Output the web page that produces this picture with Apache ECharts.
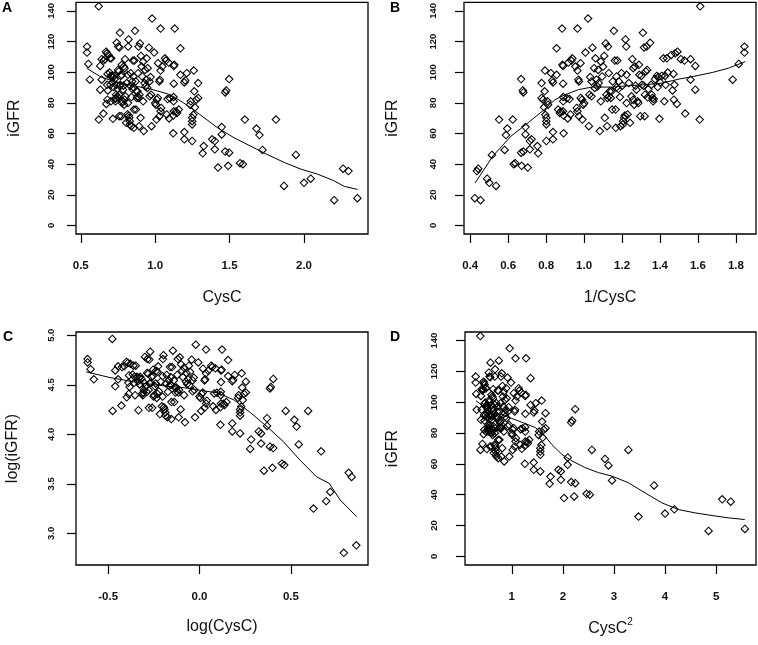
<!DOCTYPE html>
<html><head><meta charset="utf-8">
<script src="https://cdn.jsdelivr.net/npm/echarts@6/dist/echarts.min.js"></script>
<style>html,body{margin:0;padding:0;background:#fff}#c{width:758px;height:645px}</style>
</head><body><div id="c"></div>
<script>
// Values: 1/CysC (panel B x) and iGFR for each subject.
const invCysC = [0.424,0.454,0.442,0.435,0.489,0.500,0.536,0.514,0.552,0.595,0.588,0.581,0.624,0.637,0.629,0.668,0.677,0.680,0.671,0.668,0.680,0.691,0.691,0.703,0.714,0.723,0.714,0.754,0.758,0.776,0.776,0.784,0.789,0.794,0.796,0.801,0.807,0.801,0.801,0.801,0.810,0.792,0.825,0.832,0.836,0.836,0.836,0.855,0.855,0.863,0.872,0.877,0.884,0.886,0.889,0.889,0.890,0.890,0.892,0.889,0.892,0.909,0.914,0.917,0.923,0.928,0.933,0.938,0.954,0.961,0.965,0.965,0.965,0.970,0.973,0.973,0.981,0.982,0.989,0.991,0.995,1.000,1.007,1.021,1.025,1.028,1.032,1.039,1.039,1.044,1.053,1.056,1.060,1.065,1.070,1.074,1.077,1.083,1.088,1.088,1.095,1.100,1.106,1.109,1.114,1.118,1.121,1.123,1.126,1.130,1.132,1.135,1.141,1.144,1.148,1.151,1.157,1.162,1.166,1.167,1.171,1.171,1.175,1.180,1.183,1.189,1.192,1.197,1.201,1.204,1.206,1.211,1.215,1.218,1.222,1.224,1.224,1.229,1.236,1.242,1.250,1.254,1.259,1.259,1.264,1.268,1.271,1.276,1.282,1.286,1.289,1.291,1.296,1.301,1.305,1.310,1.314,1.316,1.319,1.321,1.325,1.330,1.332,1.335,1.339,1.348,1.353,1.356,1.360,1.364,1.367,1.374,1.383,1.388,1.392,1.397,1.401,1.409,1.418,1.423,1.427,1.430,1.436,1.441,1.459,1.466,1.471,1.473,1.476,1.480,1.489,1.492,1.510,1.529,1.533,1.561,1.561,1.586,1.586,1.609,1.612,1.783,1.815,1.845,1.845];
const iGFR = [17.8,16.5,37.0,35.5,30.5,27.8,25.8,46.0,69.1,63.2,59.0,49.3,69.1,40.6,40.0,95.5,88.1,86.8,38.9,47.5,48.2,64.2,59.4,37.8,55.1,56.2,49.7,51.8,47.1,92.9,83.2,82.1,77.1,101.1,72.2,70.2,81.0,68.0,65.9,55.1,78.8,87.5,99.4,94.6,93.3,60.9,56.2,115.6,98.3,75.6,73.4,74.3,128.5,104.8,104.1,92.5,83.8,81.0,60.1,74.5,71.7,83.0,69.8,106.3,82.5,72.4,107.6,109.1,103.7,76.7,74.5,128.5,101.1,95.1,94.0,71.3,105.9,83.2,82.1,69.1,78.8,79.9,112.8,135.0,64.8,85.3,96.8,84.3,94.0,116.0,102.6,89.7,109.1,95.1,90.7,101.5,92.9,61.6,106.9,81.0,97.2,103.7,110.6,70.2,118.8,85.3,64.8,83.2,116.7,99.4,84.3,87.5,83.2,87.5,75.6,94.0,127.0,107.6,75.6,63.7,90.1,97.2,107.6,89.0,94.0,83.8,64.8,99.4,91.2,65.9,68.0,70.2,71.7,121.4,116.7,98.3,79.9,72.4,92.9,67.0,84.3,108.5,102.6,82.1,78.8,103.7,91.2,88.6,81.0,79.9,104.8,98.3,71.3,97.6,91.8,125.7,91.2,116.2,71.3,85.3,100.5,116.7,101.5,83.6,89.0,119.2,91.8,85.3,83.2,81.0,82.5,95.5,97.6,90.3,96.8,69.6,93.3,97.6,109.1,81.0,97.6,91.8,109.1,99.8,111.3,88.1,98.9,82.1,91.8,112.3,79.3,113.4,108.5,107.6,73.0,108.5,95.1,104.1,88.6,69.1,143.0,95.1,105.4,112.8,116.7];

// Smoothed (loess) curves
const loessA_x = [0.54,0.63,0.74,0.85,0.97,1.08,1.12,1.21,1.30,1.42,1.53,1.64,1.75,1.87,1.98,2.09,2.20,2.27,2.36];
const loessA_y = [102.6,97.2,93.3,91.2,89.0,86.0,84.3,78.8,72.4,63.7,57.2,51.8,46.4,41.0,36.7,33.5,29.2,25.5,23.5];
const loessB_x = [0.425,0.52,0.615,0.705,0.79,0.846,0.90,0.97,1.04,1.15,1.235,1.32,1.41,1.50,1.59,1.675,1.76,1.85];
const loessB_y = [27.6,45.4,58.3,67.0,75.6,82.0,85.3,88.6,90.3,90.3,91.2,91.8,92.9,95.5,97.6,99.8,102.6,106.9];
const loessC_x = [-0.62,-0.49,-0.36,-0.27,-0.18,-0.09,0.0,0.10,0.19,0.28,0.37,0.46,0.55,0.64,0.71,0.77,0.86];
const loessC_y = [4.63,4.573,4.53,4.506,4.486,4.472,4.445,4.418,4.345,4.217,4.076,3.924,3.739,3.571,3.504,3.336,3.168];
const loessD_x = [0.30,0.50,0.70,1.0,1.2,1.46,1.65,1.78,1.98,2.18,2.44,2.70,2.96,3.28,3.61,3.94,4.26,4.59,4.92,5.24,5.56];
const loessD_y = [101,96,93,89.5,87,83.6,78.1,72.7,66.2,61.9,57.5,54.3,52.1,47.8,41.2,34.7,30.4,28.2,26.5,25.0,23.9];

// Tick values
const ticksA_x = [0.5,1.0,1.5,2.0];
const ticksB_x = [0.4,0.6,0.8,1.0,1.2,1.4,1.6,1.8];
const ticksC_x = [-0.5,0.0,0.5];
const ticksD_x = [1,2,3,4,5];
const ticksGFR = [0,20,40,60,80,100,120,140];
const ticksLogGFR = [3.0,3.5,4.0,4.5,5.0];

// Panel x variables are the plotted transforms of CysC named on each axis
const cysC = invCysC.map(v => 1 / v);
const dataA = cysC.map((c, i) => [c, iGFR[i]]);
const dataB = invCysC.map((v, i) => [v, iGFR[i]]);
const dataC = cysC.map((c, i) => [Math.log(c), Math.log(iGFR[i])]);
const dataD = cysC.map((c, i) => [c * c, iGFR[i]]);
const zip = (xs, ys) => xs.map((x, i) => [x, ys[i]]);

const FONT = 'Liberation Sans, Arial, Helvetica, sans-serif';
const INK = '#111';

function xAx(i, min, max, ticks, fmt, name, labelMargin, nameGap) {
  return {
    type: 'value', gridIndex: i, min: min, max: max,
    axisLine: { show: false, onZero: false },
    splitLine: { show: false },
    axisTick: { show: true, length: 9, customValues: ticks, lineStyle: { color: '#000', width: 1.2 } },
    axisLabel: { customValues: ticks, margin: labelMargin, fontSize: 11.5, fontWeight: 'bold', color: INK, fontFamily: FONT, formatter: fmt },
    name: name, nameLocation: 'middle', nameGap: nameGap,
    nameTextStyle: {
      fontSize: 16, color: INK, fontFamily: FONT,
      rich: {
        a: { fontSize: 16, color: INK, fontFamily: FONT, lineHeight: 20, verticalAlign: 'bottom' },
        s: { fontSize: 10, color: INK, fontFamily: FONT, lineHeight: 10, verticalAlign: 'top' }
      }
    }
  };
}
function yAx(i, min, max, ticks, fmt, name, labelMargin, nameGap) {
  return {
    type: 'value', gridIndex: i, min: min, max: max,
    axisLine: { show: false, onZero: false },
    splitLine: { show: false },
    axisTick: { show: true, length: 9, customValues: ticks, lineStyle: { color: '#000', width: 1.2 } },
    axisLabel: { customValues: ticks, rotate: 90, margin: labelMargin, fontSize: 9.5, fontWeight: 'bold', color: INK, fontFamily: FONT, formatter: fmt },
    name: name, nameLocation: 'middle', nameGap: nameGap,
    nameTextStyle: { fontSize: 16, color: INK, fontFamily: FONT }
  };
}
const f1 = v => Number(v).toFixed(1);
const f0 = v => String(Math.round(v));

function scat(i, data) {
  return {
    type: 'scatter', xAxisIndex: i, yAxisIndex: i, data: data,
    symbol: 'diamond', symbolSize: 7.5, silent: true,
    itemStyle: { color: 'rgba(255,255,255,0)', borderColor: '#000', borderWidth: 1.05, opacity: 1 }
  };
}
function curve(i, data) {
  return {
    type: 'line', xAxisIndex: i, yAxisIndex: i, data: data,
    showSymbol: false, symbol: 'none', silent: true, smooth: false,
    lineStyle: { color: '#000', width: 1 }, z: 3
  };
}

const gridBase = { show: true, borderColor: '#000', borderWidth: 1.3, backgroundColor: 'rgba(0,0,0,0)', containLabel: false };
const chart = echarts.init(document.getElementById('c'), null, { renderer: 'canvas' });
chart.setOption({
  animation: false,
  backgroundColor: '#fff',
  grid: [
    Object.assign({ left: 76, top: 2, width: 292, height: 232 }, gridBase),
    Object.assign({ left: 464, top: 2, width: 292, height: 232 }, gridBase),
    Object.assign({ left: 76, top: 332, width: 292, height: 233 }, gridBase),
    Object.assign({ left: 465, top: 332, width: 291, height: 233 }, gridBase)
  ],
  xAxis: [
    xAx(0, 0.468, 2.43, ticksA_x, f1, 'CysC', 26, 56),
    xAx(1, 0.367, 1.906, ticksB_x, f1, '1/CysC', 26, 56),
    xAx(2, -0.676, 0.922, ticksC_x, f1, 'log(CysC)', 26, 54),
    xAx(3, 0.085, 5.78, ticksD_x, f0, '{a|CysC}{s|2}', 26, 52)
  ],
  yAxis: [
    yAx(0, -5.6, 145.6, ticksGFR, f0, 'iGFR', 20, 53),
    yAx(1, -5.6, 145.6, ticksGFR, f0, 'iGFR', 26, 63),
    yAx(2, 2.68, 5.033, ticksLogGFR, f1, 'log(iGFR)', 20, 55),
    yAx(3, -5.6, 145.6, ticksGFR, f0, 'iGFR', 26, 64)
  ],
  series: [
    scat(0, dataA), curve(0, zip(loessA_x, loessA_y)),
    scat(1, dataB), curve(1, zip(loessB_x, loessB_y)),
    scat(2, dataC), curve(2, zip(loessC_x, loessC_y)),
    scat(3, dataD), curve(3, zip(loessD_x, loessD_y))
  ],
  graphic: [
    { type: 'text', left: 2, top: 1, style: { text: 'A', font: 'bold 14px ' + FONT, fill: '#000' } },
    { type: 'text', left: 390, top: 1, style: { text: 'B', font: 'bold 14px ' + FONT, fill: '#000' } },
    { type: 'text', left: 3, top: 330, style: { text: 'C', font: 'bold 14px ' + FONT, fill: '#000' } },
    { type: 'text', left: 390, top: 330, style: { text: 'D', font: 'bold 14px ' + FONT, fill: '#000' } }
  ]
});
</script></body></html>
